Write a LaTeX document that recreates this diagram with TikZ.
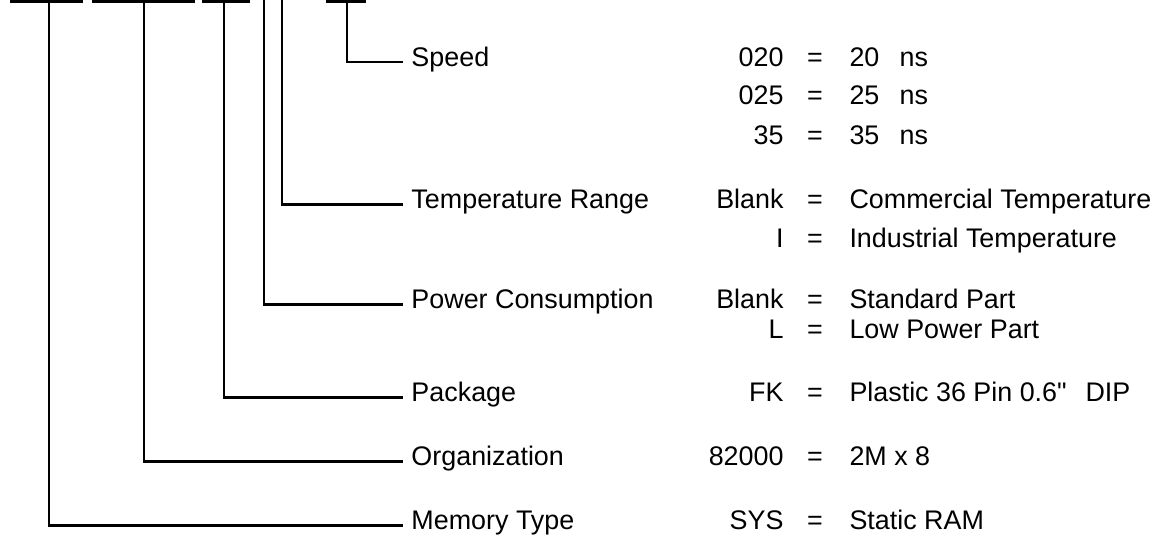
\documentclass[tikz,border=0pt]{standalone}
\usepackage{fontspec}
\setmainfont{Liberation Sans}
\usepackage{tikz}

\newcommand{\inch}{\XeTeXglyph\XeTeXcharglyph"22\relax}

\tikzset{
  field/.style = {anchor=mid west, inner xsep=0.14cm, inner ysep=0pt},
  code/.style = {anchor=mid east, inner sep=0pt},
  eqsign/.style = {anchor=mid, inner sep=0pt},
  meaning/.style = {anchor=mid west, inner sep=0pt},
  elbow/.style = {to path={|- (\tikztotarget)}},
  digit/.style = {fill=black, draw=none}
}

\begin{document}
\begin{tikzpicture}[x=0.02cm, y=-0.02cm, line width=1.7pt,
    font=\fontsize{15.3}{18}\selectfont]
        \useasboundingbox (0,0) rectangle (1162,538);

        % part number positions
        \fill[digit] (10,-3) rectangle (83,3);
        \fill[digit] (92,-3) rectangle (195,3);
        \fill[digit] (202,-3) rectangle (250,3);
        \fill[digit] (326,-3) rectangle (366,3);

        \coordinate (mem_top) at (49,0);
        \coordinate (org_top) at (144,0);
        \coordinate (pkg_top) at (224,0);
        \coordinate (pwr_top) at (264,0);
        \coordinate (tmp_top) at (282,0);
        \coordinate (spd_top) at (347,3);

        \node (spd_lbl)[field] at (403,62) {Speed};
        \node (tmp_lbl)[field] at (403,204) {Temperature Range};
        \node (pwr_lbl)[field] at (403,304) {Power Consumption};
        \node (pkg_lbl)[field] at (403,397) {Package};
        \node (org_lbl)[field] at (403,461) {Organization};
        \node (mem_lbl)[field] at (403,525) {Memory Type};

        \path(spd_top) edge[elbow] (spd_lbl.mid west);
        \path(tmp_top) edge[elbow] (tmp_lbl.mid west);
        \path(pwr_top) edge[elbow] (pwr_lbl.mid west);
        \path(pkg_top) edge[elbow] (pkg_lbl.mid west);
        \path(org_top) edge[elbow] (org_lbl.mid west);
        \path(mem_top) edge[elbow] (mem_lbl.mid west);

        % speed
        \node (spd_c1)[code] at (785,62) {020};
        \node (spd_e1)[eqsign] at (815,62) {=};
        \node (spd_v1)[meaning] at (848,62) {20\hspace{0.75em}ns};
        \node (spd_c2)[code] at (785,100) {025};
        \node (spd_e2)[eqsign] at (815,100) {=};
        \node (spd_v2)[meaning] at (848,100) {25\hspace{0.75em}ns};
        \node (spd_c3)[code] at (785,140) {35};
        \node (spd_e3)[eqsign] at (815,140) {=};
        \node (spd_v3)[meaning] at (848,140) {35\hspace{0.75em}ns};

        % temperature
        \node (tmp_c1)[code] at (785,204) {Blank};
        \node (tmp_e1)[eqsign] at (815,204) {=};
        \node (tmp_v1)[meaning] at (848,204) {Commercial Temperature};
        \node (tmp_c2)[code] at (785,243) {I};
        \node (tmp_e2)[eqsign] at (815,243) {=};
        \node (tmp_v2)[meaning] at (848,243) {Industrial Temperature};

        % power
        \node (pwr_c1)[code] at (785,304) {Blank};
        \node (pwr_e1)[eqsign] at (815,304) {=};
        \node (pwr_v1)[meaning] at (848,304) {Standard Part};
        \node (pwr_c2)[code] at (785,334) {L};
        \node (pwr_e2)[eqsign] at (815,334) {=};
        \node (pwr_v2)[meaning] at (848,334) {Low Power Part};

        % package, organization, memory
        \node (pkg_c1)[code] at (785,397) {FK};
        \node (pkg_e1)[eqsign] at (815,397) {=};
        \node (pkg_v1)[meaning] at (848,397) {Plastic 36 Pin 0.6\inch\hspace{0.7em}DIP};
        \node (org_c1)[code] at (785,461) {82000};
        \node (org_e1)[eqsign] at (815,461) {=};
        \node (org_v1)[meaning] at (848,461) {2M x 8};
        \node (mem_c1)[code] at (785,525) {SYS};
        \node (mem_e1)[eqsign] at (815,525) {=};
        \node (mem_v1)[meaning] at (848,525) {Static RAM};
    \end{tikzpicture}
\end{document}
